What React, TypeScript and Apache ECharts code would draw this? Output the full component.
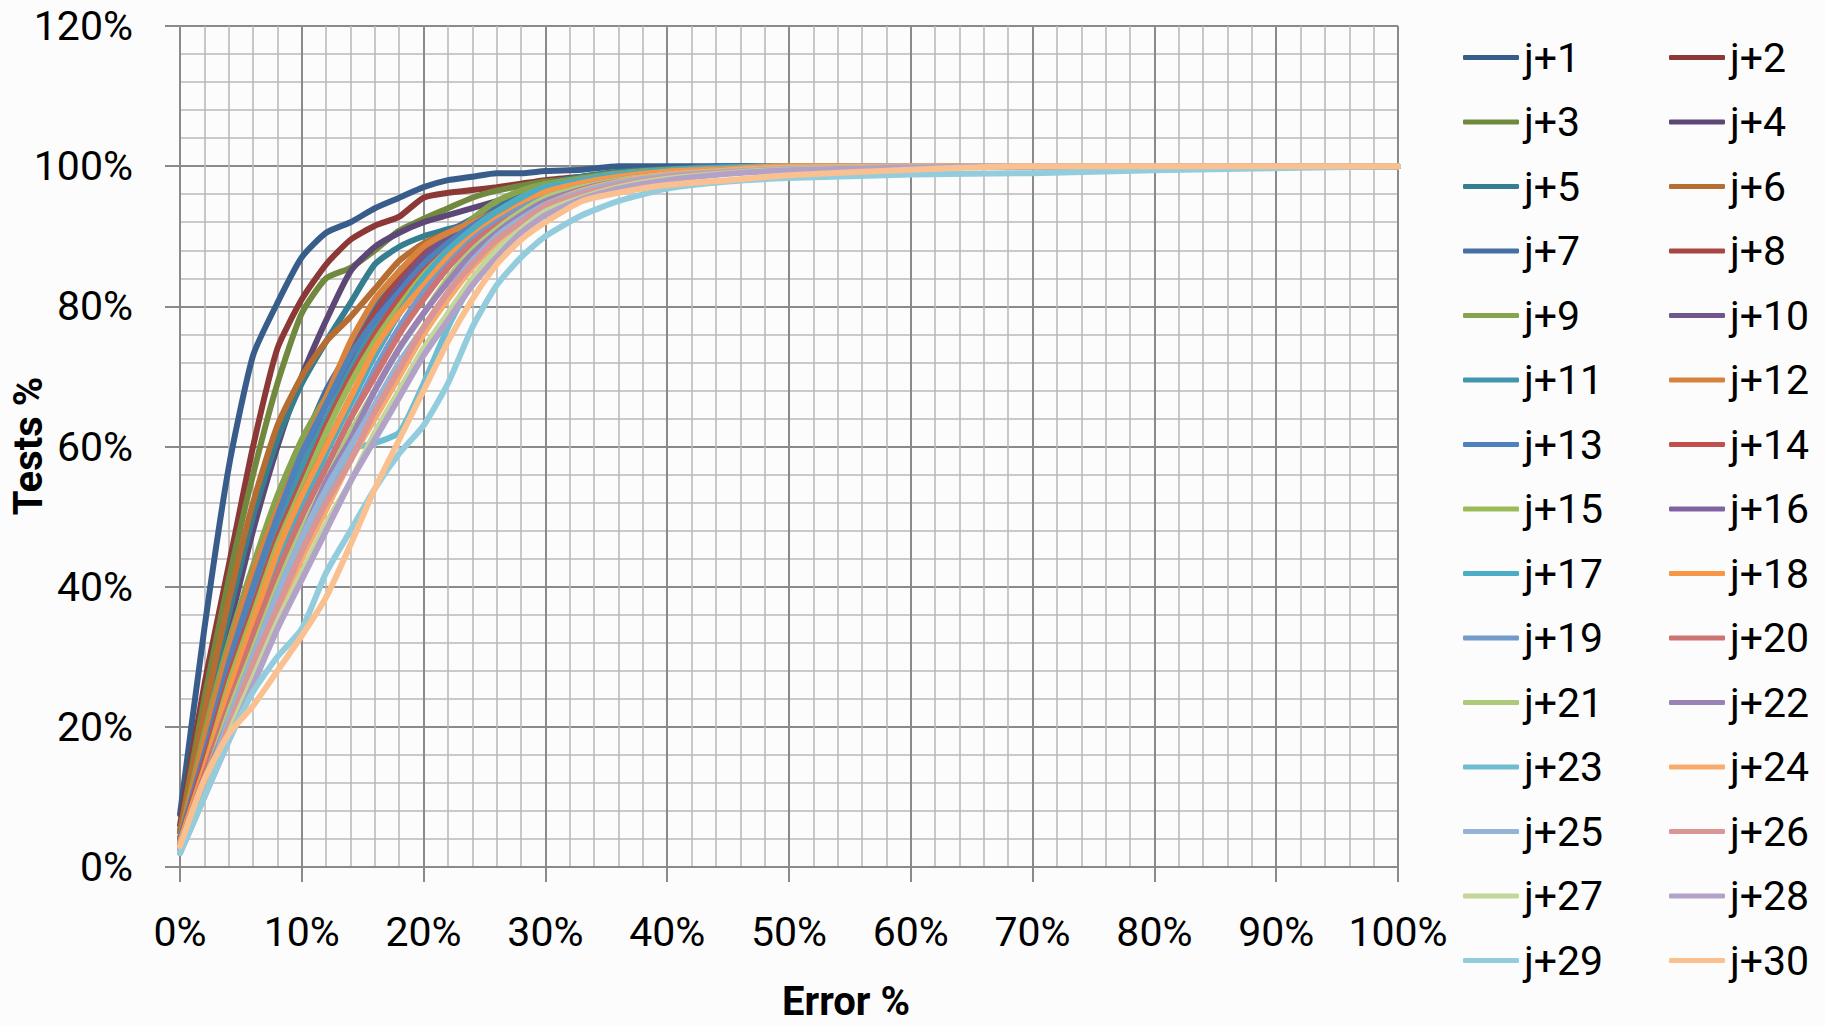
import React, { useEffect, useRef } from "react";
import * as echarts from "echarts";

// Error % sample positions (x axis)
const xPoints = [0, 2, 4, 6, 8, 10, 12, 14, 16, 18, 20, 22, 24, 26, 28, 30, 33, 36, 40, 45, 50, 60, 70, 80, 100];

const seriesNames = [
  "j+1", "j+2", "j+3", "j+4", "j+5", "j+6", "j+7", "j+8", "j+9", "j+10",
  "j+11", "j+12", "j+13", "j+14", "j+15", "j+16", "j+17", "j+18", "j+19", "j+20",
  "j+21", "j+22", "j+23", "j+24", "j+25", "j+26", "j+27", "j+28", "j+29", "j+30",
];

const seriesColors = [
  "#385D8A", "#8C3836", "#71893F", "#5C4776", "#357D91", "#B66D31",
  "#4570A4", "#A74643", "#87A34D", "#6F578D", "#4196AC", "#D7833D",
  "#4F81BD", "#C0504D", "#9BBB59", "#8064A2", "#4BACC6", "#F79646",
  "#729ACA", "#CD7371", "#AFC97A", "#9983B5", "#6FBDD1", "#F9AB6B",
  "#95B3D7", "#D99694", "#C3D69B", "#B3A2C7", "#93CDDD", "#FAC090",
];

const s1 = [7.5, 34, 57, 73, 80.5, 87, 90.5, 92, 94, 95.5, 97, 98, 98.5, 99, 99, 99.3, 99.5, 100, 100, 100, 100, 100, 100, 100, 100];
const s2 = [6, 26, 43, 60, 74, 81, 86, 89.5, 91.5, 92.8, 95.5, 96.2, 96.6, 97, 97.5, 98, 98.5, 99, 99.3, 99.5, 99.8, 100, 100, 100, 100];
const s3 = [5, 24, 41, 56, 69, 79, 84, 85.5, 88, 90.8, 92.5, 94, 95.5, 96.5, 97.2, 97.8, 98.3, 98.8, 99.3, 99.6, 100, 100, 100, 100, 100];
const s4 = [5, 20, 34, 48, 60, 70, 78, 85, 88.5, 90.5, 92, 93, 94, 95, 96, 97, 98, 98.7, 99.2, 99.6, 100, 100, 100, 100, 100];
const s5 = [5, 21, 36, 50, 61, 69, 75, 80.5, 86, 88.5, 90, 91, 92, 94, 96, 97.5, 98.5, 99.2, 99.6, 100, 100, 100, 100, 100, 100];
const s6 = [5, 22, 38, 52, 63, 70, 75, 78.5, 82.5, 86.5, 89, 90.5, 92, 93.5, 95, 96.5, 98, 98.8, 99.4, 99.8, 100, 100, 100, 100, 100];
const s7 = [4, 18, 31, 42, 52, 60, 68, 74, 80, 85, 88, 90.5, 92.5, 94, 95.5, 97, 98, 99, 99.5, 100, 100, 100, 100, 100, 100];
const s8 = [4, 17, 30, 41, 51, 59, 66, 73, 79, 84, 87.5, 90, 92, 93.5, 95, 96.5, 97.8, 98.6, 99.2, 99.7, 100, 100, 100, 100, 100];
const s9 = [4, 19, 32, 43, 53, 61, 67, 72, 77, 82, 86, 89.5, 92.5, 95, 96.5, 97.5, 98.3, 99, 99.5, 99.8, 100, 100, 100, 100, 100];
const s10 = [4, 16, 28, 39, 49, 58, 66, 72, 78, 83, 87, 90, 92, 93.5, 95, 96.5, 97.5, 98.3, 99, 99.5, 99.8, 100, 100, 100, 100];
const s11 = [3.5, 15, 27, 38, 48, 57, 64, 71, 77, 82, 86, 89, 91.5, 93.5, 95.5, 97, 98, 98.8, 99.4, 99.8, 100, 100, 100, 100, 100];
const s12 = [4, 18, 31, 42, 51, 59, 67, 75, 81, 85, 88.5, 90.5, 92, 93.5, 95, 96.5, 97.7, 98.6, 99.3, 99.7, 100, 100, 100, 100, 100];
const s13 = [4, 16, 29, 40, 50, 59, 66, 73, 78, 82, 86, 89, 91.5, 93.5, 95, 96.5, 97.5, 98.5, 99, 99.5, 99.7, 100, 100, 100, 100];
const s14 = [3.5, 15, 27, 37, 47, 55, 63, 70, 76, 81, 85, 88, 90.5, 92.5, 94.5, 96, 97.5, 98.5, 99.2, 99.7, 100, 100, 100, 100, 100];
const s15 = [3.5, 14, 26, 36, 46, 54, 62, 69, 75, 80, 84.5, 88, 91, 93.5, 95.5, 97, 98, 98.8, 99.3, 99.7, 100, 100, 100, 100, 100];
const s16 = [3, 13, 24, 34, 44, 53, 60, 67, 73, 79, 84, 87.5, 90.5, 92.5, 94.5, 96, 97.3, 98.3, 99, 99.5, 99.8, 100, 100, 100, 100];
const s17 = [3, 13, 24, 34, 43, 51, 59, 66, 73, 79, 84, 88, 91, 93.5, 95.5, 97, 98, 98.8, 99.4, 99.8, 100, 100, 100, 100, 100];
const s18 = [3.5, 14, 25, 35, 45, 53, 60, 67, 74, 79, 83, 87, 90, 92.5, 94.5, 96.3, 97.6, 98.5, 99.2, 99.6, 100, 100, 100, 100, 100];
const s19 = [3, 13, 23, 32, 41, 50, 57, 64, 71, 77, 82, 86, 89.5, 92, 94, 95.5, 97, 98, 98.8, 99.4, 99.8, 100, 100, 100, 100];
const s20 = [3, 13, 23, 33, 42, 50, 57, 64, 70, 76, 81, 85.5, 89, 91.5, 93.5, 95.5, 97, 98, 98.8, 99.4, 99.8, 100, 100, 100, 100];
const s21 = [2.5, 12, 22, 31, 40, 48, 55, 62, 68, 74, 79, 84, 88, 91, 93.5, 95.5, 97, 98, 98.8, 99.4, 99.8, 100, 100, 100, 100];
const s22 = [2.5, 12, 21, 30, 39, 47, 55, 61, 68, 74, 79, 83.5, 87.5, 90.5, 93, 95, 96.7, 97.8, 98.7, 99.3, 99.7, 100, 100, 100, 100];
const s23 = [2.5, 11, 20, 29, 38, 46, 53, 59.5, 60.5, 62, 69, 77, 83.5, 88, 91.5, 94, 96.3, 97.7, 98.7, 99.3, 99.7, 100, 100, 100, 100];
const s24 = [2.5, 11, 20, 28, 36, 44, 51, 58, 64, 70, 76, 81, 85.5, 89, 92, 94.5, 96.5, 97.8, 98.8, 99.4, 99.8, 100, 100, 100, 100];
const s25 = [2.5, 11, 21, 30, 39, 47, 54, 60, 66, 72, 77, 82, 86.5, 90, 92.5, 94.5, 96.3, 97.6, 98.6, 99.2, 99.6, 99.8, 100, 100, 100];
const s26 = [2, 11, 20, 29, 37, 45, 52, 58, 65, 71, 77, 82, 86, 89.5, 92, 94.3, 96, 97.3, 98.4, 99.1, 99.5, 99.8, 100, 100, 100];
const s27 = [2, 10, 19, 27, 35, 42, 49, 55, 62, 68, 74, 79, 84, 88, 91, 93.5, 95.5, 97, 98.2, 99, 99.5, 99.8, 100, 100, 100];
const s28 = [2, 10, 18, 26, 34, 41, 48, 55, 61, 67, 73, 78, 83, 87, 90.5, 93, 95.3, 96.8, 98, 98.9, 99.4, 99.8, 100, 100, 100];
const s29 = [2, 10, 18, 25, 30, 34, 42, 48, 54, 59, 63, 69, 77, 83, 87, 90, 93, 95, 96.8, 97.8, 98.3, 98.8, 99, 99.4, 100];
const s30 = [3, 12.5, 19, 23, 28, 33, 38.5, 46, 54, 61, 68, 75, 81, 86, 89.5, 92, 95, 96.2, 97.3, 98, 98.7, 99.5, 100, 100, 100];

const seriesValues = [
  s1, s2, s3, s4, s5, s6, s7, s8, s9, s10,
  s11, s12, s13, s14, s15, s16, s17, s18, s19, s20,
  s21, s22, s23, s24, s25, s26, s27, s28, s29, s30,
];

const FONT = "Roboto";
const MAJOR = "#8a8a8a";
const MINOR = "#bababa";

export default function App() {
  const ref = useRef<HTMLDivElement>(null);

  useEffect(() => {
    if (!ref.current) return;
    const chart = echarts.init(ref.current, null, { renderer: "svg" });

    const oddNames = seriesNames.filter((_, i) => i % 2 === 0);
    const evenNames = seriesNames.filter((_, i) => i % 2 === 1);

    const legendCommon = {
      orient: "vertical",
      top: 32,
      itemWidth: 56,
      itemHeight: 5,
      itemGap: 23.5,
      icon: "roundRect",
      itemStyle: { borderWidth: 0 },
      textStyle: { fontSize: 41, lineHeight: 40, color: "#000", fontFamily: FONT },
      selectedMode: false,
    };

    const option: any = {
      animation: false,
      backgroundColor: "#fcfcfc",
      color: seriesColors,
      textStyle: { fontFamily: FONT },
      grid: { left: 180, top: 26, width: 1218, height: 841, containLabel: false, outerBoundsMode: "none" },
      legend: [
        { ...legendCommon, data: oddNames, left: 1458 },
        { ...legendCommon, data: evenNames, left: 1664 },
      ],
      graphic: [
        {
          type: "text",
          x: 28,
          y: 446,
          rotation: Math.PI / 2,
          style: {
            text: "Tests %",
            fontSize: 40,
            fontWeight: "bold",
            fontFamily: FONT,
            fill: "#000",
            align: "center",
            verticalAlign: "middle",
          },
        },
      ],
      xAxis: {
        type: "value",
        min: 0,
        max: 100,
        interval: 10,
        axisLine: { show: true, onZero: false, lineStyle: { color: MAJOR, width: 2 } },
        axisTick: { show: true, length: 15, lineStyle: { color: MAJOR, width: 2 } },
        axisLabel: { formatter: "{value}%", fontSize: 41, color: "#000", margin: 44, fontFamily: FONT },
        splitLine: { show: true, lineStyle: { color: MAJOR, width: 2 } },
        minorTick: { show: false, splitNumber: 5 },
        minorSplitLine: { show: true, lineStyle: { color: MINOR, width: 1.6 } },
        name: "Error %",
        nameLocation: "middle",
        nameGap: 114,
        nameTextStyle: { fontSize: 40, fontWeight: "bold", color: "#000", fontFamily: FONT, padding: [0, 0, 0, 114] },
      },
      yAxis: {
        type: "value",
        min: 0,
        max: 120,
        interval: 20,
        axisLine: { show: true, lineStyle: { color: MAJOR, width: 2 } },
        axisTick: { show: true, length: 15, lineStyle: { color: MAJOR, width: 2 } },
        axisLabel: { formatter: "{value}%", fontSize: 41, color: "#000", margin: 47, fontFamily: FONT },
        splitLine: { show: true, lineStyle: { color: MAJOR, width: 2 } },
        minorTick: { show: false, splitNumber: 5 },
        minorSplitLine: { show: true, lineStyle: { color: MINOR, width: 1.6 } },
      },
      series: seriesNames.map((name, i) => ({
        name,
        type: "line",
        data: xPoints.map((x, k) => [x, seriesValues[i][k]]),
        symbol: "none",
        showSymbol: false,
        smooth: 0.2,
        lineStyle: { width: 6, color: seriesColors[i], cap: "round", join: "round" },
        itemStyle: { color: seriesColors[i] },
        emphasis: { disabled: true },
      })),
    };

    chart.setOption(option);
    return () => chart.dispose();
  }, []);

  return (
    <div
      ref={ref}
      style={{ position: "absolute", left: 0, top: 0, width: 1825, height: 1026 }}
    />
  );
}
